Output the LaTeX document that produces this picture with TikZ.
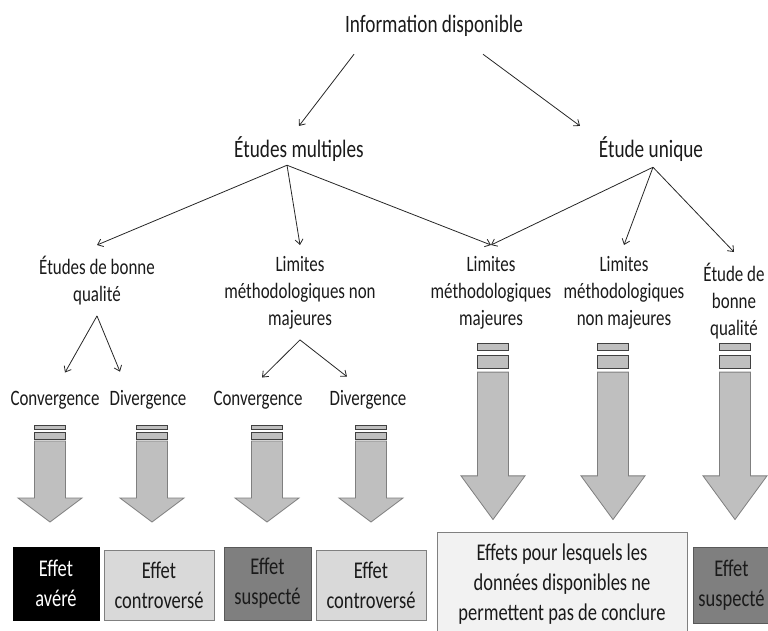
\documentclass[tikz,border=0pt]{standalone}
\usepackage{fontspec}
\setmainfont{Carlito}[FakeStretch=0.77]
\usepackage{tikz}
\usetikzlibrary{arrows.meta}
\usetikzlibrary{calc}

\definecolor{arrowFill}{HTML}{BFBFBF}
\definecolor{arrowEdge}{HTML}{7F7F7F}
\definecolor{stripeEdge}{HTML}{404040}
\definecolor{lineDark}{HTML}{262626}
\definecolor{textDark}{HTML}{1A1A1A}
\definecolor{controFill}{HTML}{D9D9D9}
\definecolor{suspectFill}{HTML}{7F7F7F}
\definecolor{nodataFill}{HTML}{F2F2F2}
\definecolor{boxEdge}{HTML}{808080}

\newcommand{\titleFont}{\fontsize{25}{30}\selectfont}
\newcommand{\lblFont}{\fontsize{22}{27}\selectfont}
\newcommand{\boxFont}{\fontsize{24}{30}\selectfont}

% x of centre, y of top, vertical stretch
\newcommand{\drawBlockArrow}[3]{
	\begin{scope}[shift={(#1,#2)},yscale=#3]
		\filldraw[fill=arrowFill,draw=stripeEdge,line width=0.8pt] (-15.5,0) rectangle (15.5,4);
		\filldraw[fill=arrowFill,draw=stripeEdge,line width=0.8pt] (-15.5,7) rectangle (15.5,14);
		\filldraw[fill=arrowFill,draw=arrowEdge,line width=0.8pt] (-15.5,16) -- (15.5,16) -- (15.5,73) -- (32,73)
			-- (0,97) -- (-32,73) -- (-15.5,73) -- cycle;
	\end{scope}
}

\begin{document}
\begin{tikzpicture}[x=1pt,y=-1pt,
	conn/.style={-{Straight Barb[length=5pt,width=8pt]}, draw=lineDark, line width=0.8pt},
	title/.style={inner sep=0pt, text=textDark, font=\titleFont},
	lvl/.style={inner sep=0pt, outer ysep=11pt, text=textDark, font=\lblFont, align=center},
	leaf/.style={inner sep=0pt, text=textDark, font=\lblFont},
	box/.style={draw=boxEdge, line width=0.8pt, inner sep=0pt, text=textDark, font=\boxFont, align=center}]
	\useasboundingbox (0,0) rectangle (768,630);
	\clip (0,0) rectangle (768,630);

	\node[title, anchor=base] (info) at (434,32) {Information disponible};
	\node[title, anchor=base] (multi) at (299,157) {Études multiples};
	\node[title, anchor=base] (unique) at (651,157) {Étude unique};

	\node[lvl, anchor=north] (good) at (97,245) {Études de bonne\\qualité};
	\node[lvl, anchor=north] (nonmaj) at (300,245) {Limites\\méthodologiques non\\majeures};
	\node[lvl, anchor=north] (maj) at (491,245) {Limites\\méthodologiques\\majeures};
	\node[lvl, anchor=north] (nonmajU) at (624,245) {Limites\\méthodologiques\\non majeures};
	\node[lvl, anchor=north] (goodU) at (734,252) {Étude de\\bonne\\qualité};

	\node[leaf, anchor=base] (conv1) at (55,405) {Convergence};
	\node[leaf, anchor=base] (div1) at (148,405) {Divergence};
	\node[leaf, anchor=base] (conv2) at (258,405) {Convergence};
	\node[leaf, anchor=base] (div2) at (368,405) {Divergence};

	\coordinate (info_L) at ($(info.south)+(-80,18)$);
	\coordinate (info_R) at ($(info.south)+(49,18)$);
	\coordinate (multi_S) at ($(multi.south)+(-12,4)$);
	\coordinate (unique_S) at ($(unique.south)+(2,6)$);

	\draw[conn] (info_L) -- ($(multi.north)+(0,-10)$);
	\draw[conn] (info_R) -- ($(unique.north)+(-71,-10)$);
	\draw[conn] (multi_S) -- (good.north);
	\draw[conn] (multi_S) -- (nonmaj.north);
	\draw[conn] (multi_S) -- (maj.north);
	\draw[conn] (unique_S) -- (maj.north);
	\draw[conn] (unique_S) -- (nonmajU.north);
	\draw[conn] (unique_S) -- (goodU.north);
	\draw[conn] (good.south) -- ($(conv1.north)+(10,-18)$);
	\draw[conn] (good.south) -- ($(div1.north)+(-28,-18)$);
	\draw[conn] (nonmaj.south) -- ($(conv2.north)+(4,-13)$);
	\draw[conn] (nonmaj.south) -- ($(div2.north)+(-21,-13)$);

	\drawBlockArrow{50}{425}{1}
	\drawBlockArrow{152}{425}{1}
	\drawBlockArrow{267}{425}{1}
	\drawBlockArrow{371}{425}{1}
	\drawBlockArrow{493}{343}{1.82}
	\drawBlockArrow{613}{343}{1.82}
	\drawBlockArrow{735}{343}{1.82}

	\node[box, draw=black, fill=black, text=white, minimum width=86pt, minimum height=73pt] (avere) at (56,583.5) {Effet\\avéré};
	\node[box, fill=controFill, minimum width=110pt, minimum height=70pt] (contro1) at (159,585) {Effet\\controversé};
	\node[box, draw=black!65, fill=suspectFill, minimum width=87pt, minimum height=73pt] (suspect1) at (267.5,583.5) {Effet\\suspecté};
	\node[box, fill=controFill, minimum width=110pt, minimum height=70pt] (contro2) at (371,585) {Effet\\controversé};
	\node[box, fill=nodataFill, minimum width=250pt, minimum height=104pt] (nodata) at (562,584) {Effets pour lesquels les\\données disponibles ne\\permettent pas de conclure};
	\node[box, draw=black!65, fill=suspectFill, minimum width=77pt, minimum height=76pt] (suspect2) at (731.5,585) {Effet\\suspecté};

\end{tikzpicture}
\end{document}
